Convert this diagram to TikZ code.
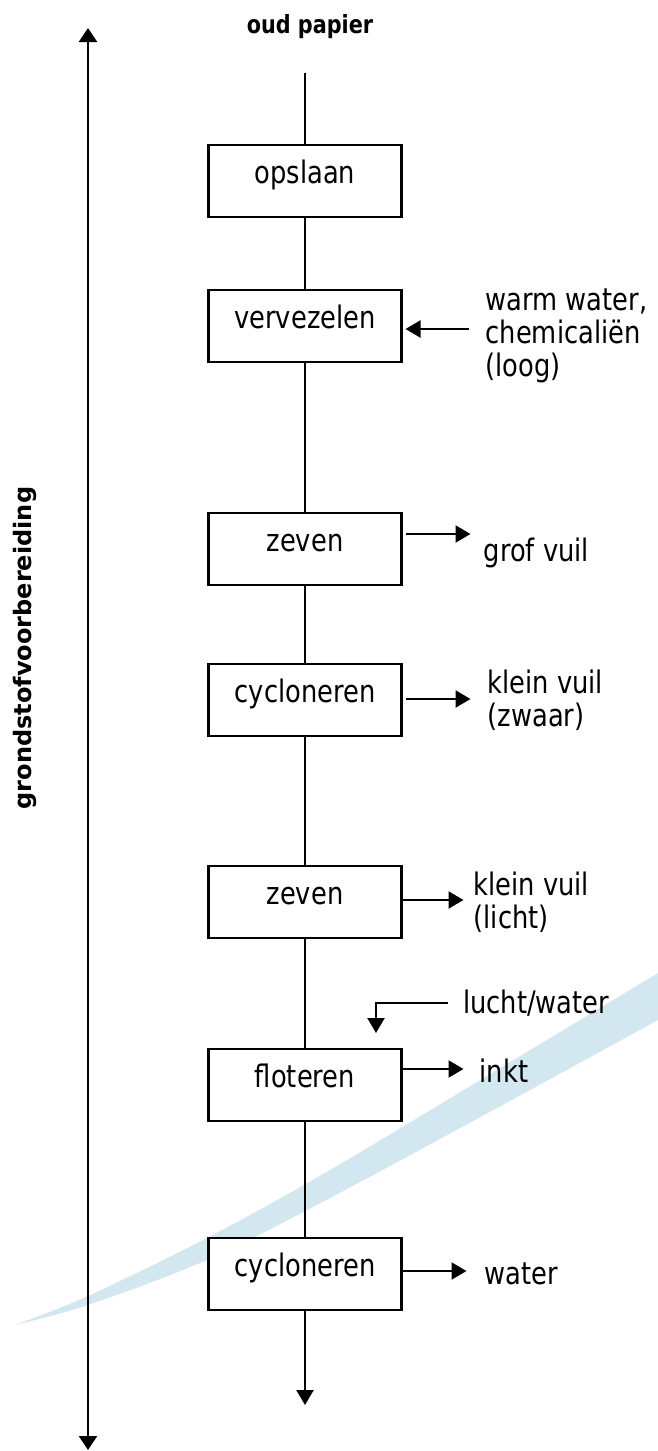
\documentclass[tikz,border=0pt]{standalone}
\usepackage{fontspec}
\setmainfont{DejaVu Sans}[FakeStretch=0.83]
\newfontfamily\sidefont{DejaVu Sans}
\usepackage{tikz}
\usetikzlibrary{arrows.meta,positioning}
\definecolor{swoosh}{HTML}{D2E7F0}

\begin{document}
\begin{tikzpicture}[x=1pt,y=-1pt,font=\fontsize{31}{33}\selectfont,
  box/.style={draw,line width=2.4pt,fill=white,minimum width=193pt,minimum height=72pt,
              text height=22pt,text depth=18pt,inner sep=0pt,outer sep=0pt},
  lbl/.style={align=left,inner sep=0pt},
  w/.style={line width=2.2pt},
  arr/.style={-{Triangle[length=15pt,width=17pt]},line width=2.2pt}]
  \useasboundingbox (0,0) rectangle (658,1451);
  \fill[swoosh] plot[smooth] coordinates {(15,1325) (88,1296) (207,1238) (330,1170) (497,1070) (658,973)}
    -- plot[smooth] coordinates {(658,1020) (497,1108) (330,1198) (207,1260) (88,1305) (15,1325)} -- cycle;
  \node[font=\bfseries\fontsize{25}{28}\selectfont] (titel) at (310,27) {oud papier};
  \node[rotate=90,font=\sidefont\bfseries\fontsize{24}{28}\selectfont] (fase) at (25,648) {grondstofvoorbereiding};
  \coordinate (ltop) at (88,28);
  \coordinate (lbot) at (88,1450);
  \draw[{Triangle[length=14pt,width=18pt]}-{Triangle[length=14pt,width=18pt]},line width=2.2pt] (ltop) -- (lbot);
  \node[box] (opslaan) at (305,181) {opslaan};
  \node[box,below=73pt of opslaan] (vervez) {vervezelen};
  \node[box,below=151pt of vervez] (zeven1) {zeven};
  \node[box,below=79pt of zeven1] (cycl1) {cycloneren};
  \node[box,below=130pt of cycl1] (zeven2) {zeven};
  \node[box,below=111pt of zeven2] (flot) {floteren};
  \node[box,below=117pt of flot] (cycl2) {cycloneren};
  \node[lbl,right=84pt of vervez,yshift=-10pt] (warm) {warm water,\\chemicaliën\\(loog)};
  \node[lbl,right=82pt of zeven1,yshift=-4pt] (grof) {grof vuil};
  \node[lbl,right=86pt of cycl1] (zwaar) {klein vuil\\(zwaar)};
  \node[lbl,right=72pt of zeven2] (licht) {klein vuil\\(licht)};
  \node[lbl,anchor=west] (lucht) at (463,1003) {lucht/water};
  \node[lbl,right=78pt of flot,yshift=14pt] (inkt) {inkt};
  \node[lbl,right=83pt of cycl2] (water) {water};
  \coordinate (in) at (305,73);
  \coordinate (uit) at (305,1405);
  \coordinate (luchtin) at (376,1033);
  \draw[w] (in) -- (opslaan);
  \draw[w] (opslaan) -- (vervez);
  \draw[w] (vervez) -- (zeven1);
  \draw[w] (zeven1) -- (cycl1);
  \draw[w] (cycl1) -- (zeven2);
  \draw[w] (zeven2) -- (flot);
  \draw[w] (flot) -- (cycl2);
  \draw[arr] (cycl2) -- (uit);
  \draw[arr] ([xshift=67pt,yshift=-3pt]vervez.east) -- ([xshift=4pt,yshift=-3pt]vervez.east);
  \draw[arr] ([xshift=4pt,yshift=15pt]zeven1.east) -- ++(65,0);
  \draw[arr] ([xshift=4pt,yshift=1pt]cycl1.east) -- ++(65,0);
  \draw[arr] ([yshift=2pt]zeven2.east) -- ++(62,0);
  \draw[arr] ([xshift=-15pt]lucht.west) -| (luchtin);
  \draw[arr] ([yshift=16pt]flot.east) -- ++(62,0);
  \draw[arr] ([yshift=3pt]cycl2.east) -- ++(65,0);
\end{tikzpicture}
\end{document}
